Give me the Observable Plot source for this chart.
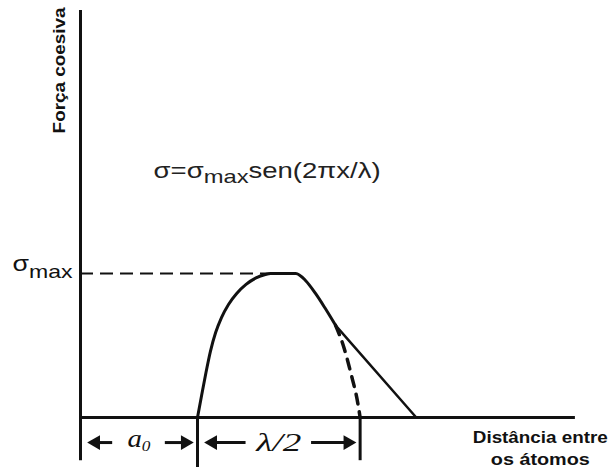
<!DOCTYPE html>
<html>
<head>
<meta charset="utf-8">
<script src="https://cdn.jsdelivr.net/npm/d3@7"></script>
<script src="https://cdn.jsdelivr.net/npm/@observablehq/plot@0.6"></script>
<style>
  html, body { margin: 0; padding: 0; background: #fff; }
</style>
</head>
<body>
<div id="chart"></div>
<script>
// Cohesive force between two atoms versus separation (schematic).
// x in arbitrary distance units, y in units of σmax.
const a0 = 2.0;          // equilibrium spacing
const halfLambda = 2.78; // half wavelength of the sine model
const sigmaMax = 1;
const xAxisEnd = 8.46;
const yAxisTop = 2.826;

// Traced force curve: rise, plateau at σmax, then fall to the split point
const curveX = [2.00, 2.07, 2.145, 2.22, 2.31, 2.41, 2.53, 2.67, 2.83, 3.00, 3.16, 3.25, 3.68, 3.85, 4.02, 4.18, 4.36];
const curveY = [0, 0.153, 0.3125, 0.458, 0.590, 0.694, 0.785, 0.861, 0.924, 0.969, 0.993, 1.0, 1.0, 0.95, 0.86, 0.76, 0.64];

// Dashed continuation of the sine down to a0 + λ/2
const sineTailX = [4.36, 4.50, 4.62, 4.74, 4.78];
const sineTailY = [0.64, 0.49, 0.31, 0.10, 0];

// Straight-line release after the split point
const releaseX = [4.36, 5.74];
const releaseY = [0.64, 0];

// Text
const yTitle = "Força coesiva";
const xTitle = ["Distância entre", "os átomos"];
const formula = "σ=σ{max}sen(2πx/λ)";
const peakLabel = "σ{max}";
const spanLabels = ["a{0}", "λ/2"];

const toPoints = (xs, ys) => xs.map((x, i) => ({x, y: ys[i]}));
const curve = toPoints(curveX, curveY);
const sineTail = toPoints(sineTailX, sineTailY);
const release = toPoints(releaseX, releaseY);
const plateauStart = curveX[curveY.indexOf(sigmaMax)];

// Dimension arrows under the axis
const arrowY = -0.174;
const spans = [
  {from: 0, to: a0, label: spanLabels[0], gap: 0.45, base: -0.208},
  {from: a0, to: a0 + halfLambda, label: spanLabels[1], gap: 0.56, base: -0.236}
];
const shafts = [], heads = [];
for (const s of spans) {
  const mid = (s.from + s.to) / 2;
  const tipL = s.from + 0.14, tipR = s.to - 0.09;
  shafts.push({x1: tipL + 0.1, x2: mid - s.gap}, {x1: mid + s.gap, x2: tipR - 0.1});
  heads.push({x: tipL + 0.12, rot: -90}, {x: tipR - 0.12, rot: 90});
}

const ink = "#111";

const chart = Plot.plot({
  width: 610,
  height: 470,
  marginLeft: 80,
  marginRight: 0,
  marginTop: 10,
  marginBottom: 0,
  x: {domain: [0, 9.06], axis: null},
  y: {domain: [-0.368, 2.826], axis: null},
  style: {background: "white", fontFamily: "'Liberation Sans', Arial, sans-serif", color: ink},
  marks: [
    // axes
    Plot.ruleX([0], {y1: () => -0.30, y2: () => yAxisTop, stroke: ink, strokeWidth: 3}),
    Plot.ruleY([0], {x1: () => 0, x2: () => xAxisEnd, stroke: ink, strokeWidth: 3}),
    // bracket ticks below the axis
    Plot.ruleX([a0], {y1: () => -0.347, y2: () => 0, stroke: ink, strokeWidth: 3}),
    Plot.ruleX([a0 + halfLambda], {y1: () => -0.30, y2: () => 0, stroke: ink, strokeWidth: 3}),
    // σmax reference line
    Plot.ruleY([sigmaMax], {x1: () => 0, x2: () => plateauStart, stroke: ink, strokeWidth: 2, strokeDasharray: "13,7"}),
    // force curve
    Plot.line(curve, {x: "x", y: "y", curve: "monotone-x", stroke: ink, strokeWidth: 3}),
    Plot.line(sineTail, {x: "x", y: "y", curve: "monotone-x", stroke: ink, strokeWidth: 3.5, strokeDasharray: "10,8"}),
    Plot.line(release, {x: "x", y: "y", stroke: ink, strokeWidth: 2.5}),
    // dimension arrows
    Plot.ruleY(shafts, {x1: "x1", x2: "x2", y: () => arrowY, stroke: ink, strokeWidth: 3}),
    Plot.dot(heads, {x: "x", y: () => arrowY, symbol: "triangle", r: 5.5, rotate: "rot", fill: ink, stroke: "none"}),
    Plot.text(spans, {
      x: d => (d.from + d.to) / 2, y: "base", text: "label",
      lineAnchor: "bottom", fontFamily: "'Liberation Serif', 'Times New Roman', serif",
      fontStyle: "italic", fontSize: 25, fill: ink
    }),
    // titles and labels
    Plot.text([yTitle], {
      x: () => 0, y: () => 2.41, text: d => d, dx: -21, rotate: -90,
      lineAnchor: "middle", fontWeight: "bold", fontSize: 16, fill: ink
    }),
    Plot.text(xTitle, {
      x: () => 7.86, y: (d, i) => [-0.174, -0.333][i], text: d => d,
      lineAnchor: "bottom", fontWeight: "bold", fontSize: 16, fill: ink
    }),
    Plot.text([formula], {
      x: () => 1.25, y: () => 1.66, text: d => d,
      textAnchor: "start", lineAnchor: "bottom", fontSize: 22, fill: "#222"
    }),
    Plot.text([peakLabel], {
      x: () => 0, y: () => sigmaMax, text: d => d, dx: -8, dy: -2,
      textAnchor: "end", lineAnchor: "bottom", fontSize: 22, fill: ink
    })
  ]
});

// Subscripts ({...}) and fitted text widths
const textFit = new Map([
  [yTitle, {length: 126}],
  [xTitle[0], {length: 135}],
  [xTitle[1], {length: 99}],
  [formula, {length: 227, sub: {size: 19, shift: 5}}],
  [peakLabel, {length: 60, sub: {size: 19, shift: 7}}],
  [spanLabels[0], {length: 23, sub: {size: 15, shift: 4}}],
  [spanLabels[1], {length: 45}]
]);
d3.select(chart).selectAll("text").each(function () {
  const raw = this.textContent;
  const fit = textFit.get(raw);
  if (!fit) return;
  const el = d3.select(this);
  if (fit.sub) {
    const parts = raw.split(/(\{[^}]*\})/).filter(s => s);
    this.textContent = "";
    let shifted = false;
    for (const p of parts) {
      const isSub = p.startsWith("{");
      const ts = el.append("tspan").text(isSub ? p.slice(1, -1) : p);
      if (isSub) { ts.attr("font-size", fit.sub.size).attr("dy", fit.sub.shift); shifted = true; }
      else if (shifted) { ts.attr("dy", -fit.sub.shift); shifted = false; }
    }
  }
  if (fit.length) el.attr("textLength", fit.length).attr("lengthAdjust", "spacingAndGlyphs");
});

document.getElementById("chart").appendChild(chart);
</script>
</body>
</html>
